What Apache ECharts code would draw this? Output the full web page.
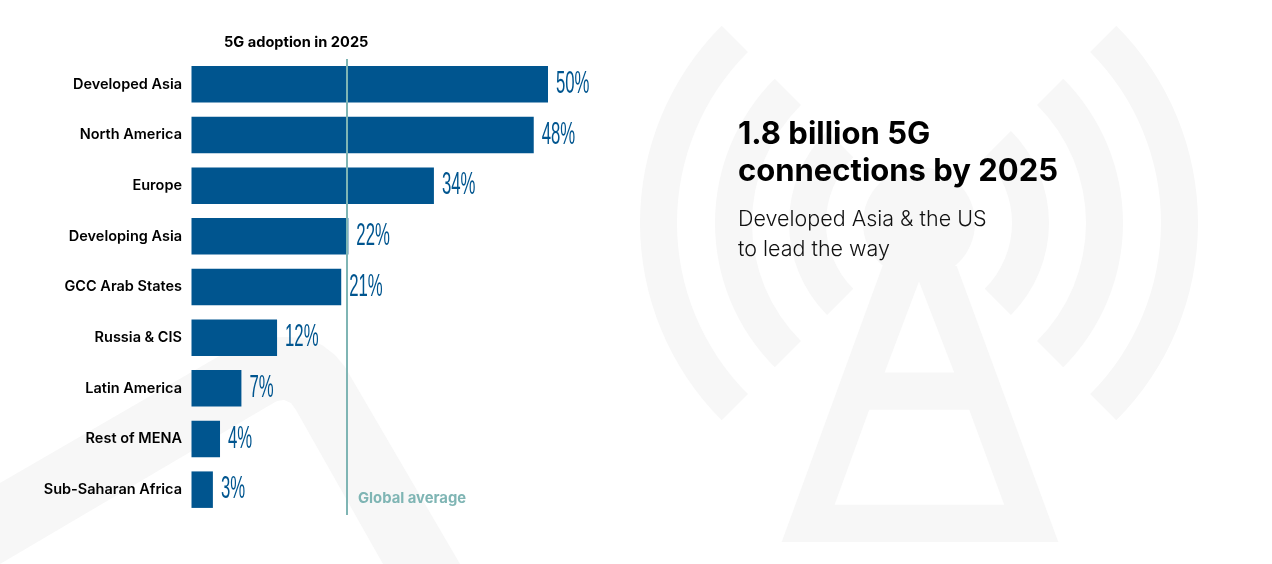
<!DOCTYPE html>
<html>
  <head>
    <meta charset="utf-8" />
    <title>5G adoption in 2025</title>
    <script src="https://cdn.jsdelivr.net/npm/echarts@6/dist/echarts.min.js"></script>
    <style>
      * {
        padding: 0;
        margin: 0;
      }

      #chart-panel {
        width: 1272px;
        height: 564px;
      }
    </style>
  </head>
  <body>
    <div id="chart-panel"></div>
    <script type="text/javascript">
      const categories = [
        "Developed Asia",
        "North America",
        "Europe",
        "Developing Asia",
        "GCC Arab States",
        "Russia & CIS",
        "Latin America",
        "Rest of MENA",
        "Sub-Saharan Africa",
      ];
      const adoption = [50, 48, 34, 22, 21, 12, 7, 4, 3];
      const globalAverage = 21.8;

      const BLUE = "#00558f";
      const TEAL = "#7fb5b4";
      const WATERMARK = "#f7f7f7";
      const LABEL_FONT = "Inter, Lato, sans-serif";

      var myChart = echarts.init(document.getElementById("chart-panel"));

      function poly(points, fill, z) {
        return {
          type: "polygon",
          z: z,
          shape: { points: points },
          style: { fill: fill },
        };
      }

      // antenna watermark: concentric arcs either side of the mast
      const cx = 919;
      const cy = 223;
      const rings = [
        [242, 279],
        [167, 204],
        [93, 130],
      ];
      const watermark = [];
      rings.forEach(function (r) {
        watermark.push({
          type: "sector",
          z: -10,
          shape: { cx: cx, cy: cy, r0: r[0], r: r[1], startAngle: (Math.PI * 3) / 4, endAngle: (Math.PI * 5) / 4 },
          style: { fill: WATERMARK },
        });
        watermark.push({
          type: "sector",
          z: -10,
          shape: { cx: cx, cy: cy, r0: r[0], r: r[1], startAngle: -Math.PI / 4, endAngle: Math.PI / 4 },
          style: { fill: WATERMARK },
        });
      });
      watermark.push({
        type: "circle",
        z: -10,
        shape: { cx: cx, cy: cy, r: 56 },
        style: { fill: WATERMARK },
      });
      // mast, openings painted white on top
      watermark.push(poly([[882.5, 266], [781.7, 542], [1058.3, 542], [956.7, 266]], WATERMARK, -10));
      watermark.push(poly([[919, 281.4], [954.2, 372.5], [884.6, 372.5]], "#ffffff", -9));
      watermark.push(poly([[869.2, 409.8], [834.6, 504.7], [1004.2, 504.7], [969.2, 409.8]], "#ffffff", -9));
      // cropped second mast behind the bars
      watermark.push(
        poly(
          [
            [0, 483], [240, 344], [262, 338], [285, 337], [305, 338], [322, 345], [335, 355], [345, 367],
            [460, 564], [383, 564], [296, 410], [291, 403], [284, 400], [277, 401], [270, 405], [0, 564],
          ],
          WATERMARK,
          -10
        )
      );

      var option = {
        animation: false,
        backgroundColor: "#ffffff",
        title: {
          text: "5G adoption in 2025",
          left: 219,
          top: 30,
          textStyle: {
            fontFamily: LABEL_FONT,
            fontSize: 14.6,
            fontWeight: 700,
            color: "#000000",
          },
        },
        grid: { left: 191.5, top: 59, width: 427.8, height: 456 },
        xAxis: { type: "value", min: 0, max: 60, show: false },
        yAxis: {
          type: "category",
          inverse: true,
          data: categories,
          axisLine: { show: false },
          axisTick: { show: false },
          axisLabel: {
            margin: 9.5,
            fontFamily: LABEL_FONT,
            fontSize: 14.5,
            fontWeight: 600,
            color: "#000000",
          },
        },
        graphic: watermark.concat([
          {
            type: "text",
            z: 10,
            x: 358,
            y: 491,
            style: {
              text: "Global average",
              fill: TEAL,
              font: "700 14.8px " + LABEL_FONT,
            },
          },
          {
            type: "text",
            z: 10,
            x: 738,
            y: 116,
            style: {
              text: "1.8 billion 5G\nconnections by 2025",
              fill: "#000000",
              font: "700 31px " + LABEL_FONT,
              lineHeight: 37,
            },
          },
          {
            type: "text",
            z: 10,
            x: 738,
            y: 205,
            style: {
              text: "Developed Asia & the US\nto lead the way",
              fill: "#111111",
              font: "300 21.5px " + LABEL_FONT,
              lineHeight: 30,
            },
          },
        ]),
        series: [
          {
            type: "bar",
            data: adoption,
            barWidth: 36.5,
            z: 2,
            itemStyle: { color: BLUE },
            markLine: {
              silent: true,
              symbol: "none",
              z: 5,
              label: { show: false },
              lineStyle: { color: TEAL, width: 2, type: "solid" },
              data: [{ xAxis: globalAverage }],
            },
          },
          {
            // condensed value labels, squeezed since no condensed face is installed
            type: "custom",
            z: 6,
            data: adoption.map(function (v, i) {
              return [v, i];
            }),
            encode: { x: 0, y: 1 },
            renderItem: function (params, api) {
              var p = api.coord([api.value(0), api.value(1)]);
              return {
                type: "text",
                x: p[0] + 8,
                y: p[1],
                scaleX: 0.54,
                style: {
                  text: api.value(0) + "%",
                  fill: BLUE,
                  font: "400 31px 'Liberation Sans', sans-serif",
                  verticalAlign: "middle",
                  align: "left",
                },
              };
            },
          },
        ],
      };

      myChart.setOption(option);
    </script>
  </body>
</html>
